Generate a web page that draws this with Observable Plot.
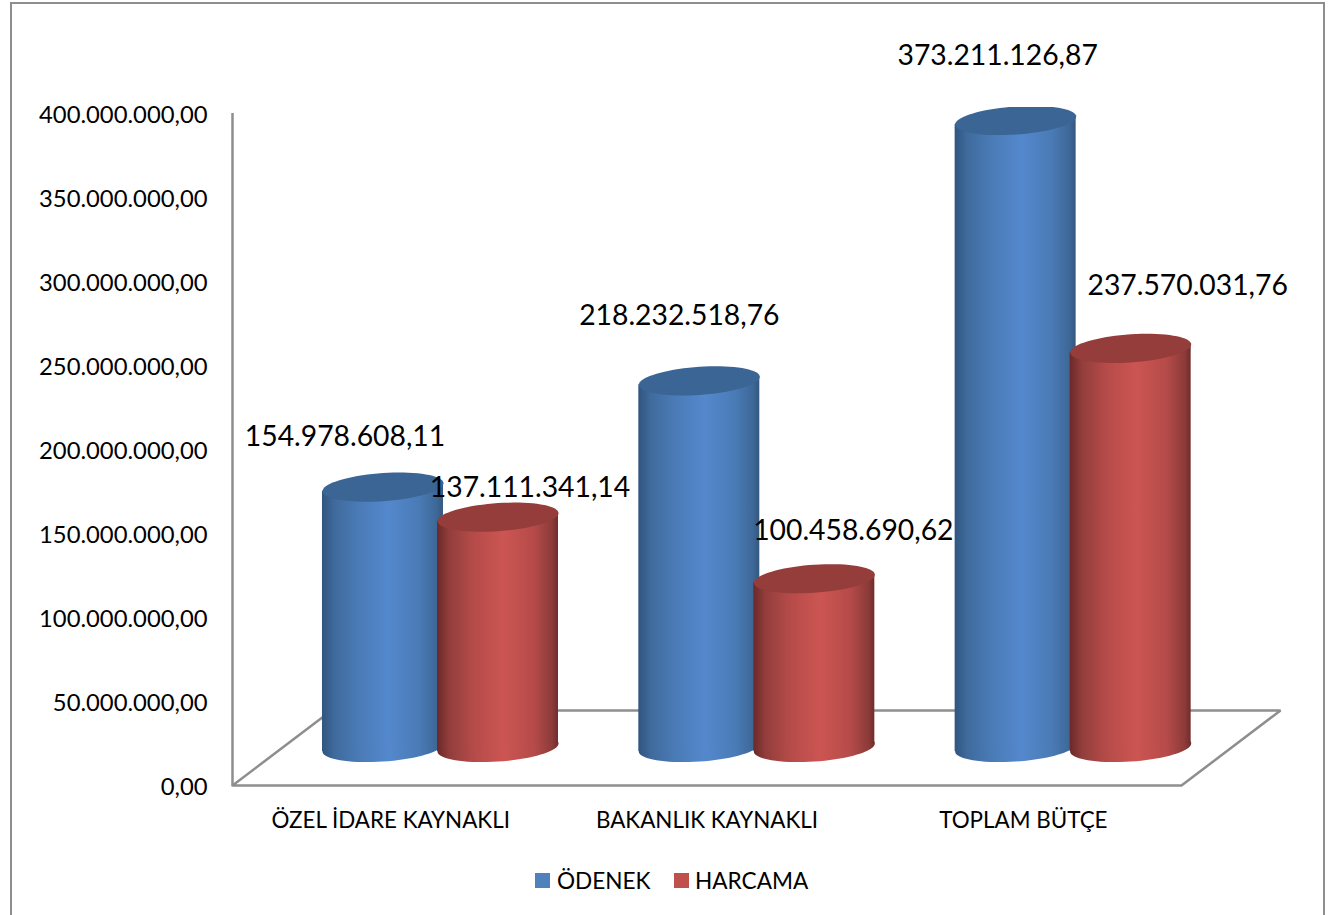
<!DOCTYPE html>
<html lang="tr">
<head>
<meta charset="utf-8">
<script src="https://cdn.jsdelivr.net/npm/d3@7"></script>
<script src="https://cdn.jsdelivr.net/npm/@observablehq/plot@0.6"></script>
<style>
  html, body { margin: 0; padding: 0; background: #fff; }
  body { width: 1333px; height: 915px; overflow: hidden; position: relative; font-family: Lato, sans-serif; color: #000; }
  #frame { position: absolute; left: 10px; top: 2px; width: 1311px; height: 913px; border: 2px solid #8e8e8e; border-bottom: none; box-sizing: content-box; pointer-events: none; }
  #chart svg { display: block; }
  #legend { position: absolute; left: 0; top: 850px; width: 1333px; height: 65px; font-size: 22.6px; }
  #legend i { position: absolute; top: 23px; width: 15px; height: 15px; }
  #legend span { position: absolute; top: 15.5px; line-height: 30px; }
</style>
</head>
<body>
<div id="chart"></div>
<div id="legend"></div>
<div id="frame"></div>
<script>
// ---- data
const categories = ["ÖZEL İDARE KAYNAKLI", "BAKANLIK KAYNAKLI", "TOPLAM BÜTÇE"];
const odenek  = [154978608.11, 218232518.76, 373211126.87];
const harcama = [137111341.14, 100458690.62, 237570031.76];
const seriesNames = ["ÖDENEK", "HARCAMA"];
const yTicks = [0, 50e6, 100e6, 150e6, 200e6, 250e6, 300e6, 350e6, 400e6];

// ---- layout (px)
const W = 1333, H = 850;
const xL = 232, xR = 1181, yB = 785, yT = 113;
const unit = (xR - xL) / 3, pxPerVal = (yB - yT) / 400e6;
const radius = 60.5, lift = -38, tilt = 4;
const offsets = [0.4757, 0.8393];
const halfW = radius / unit, tiltVal = tilt / pxPerVal;
const labelDx = [[-38, 32], [-20, 39], [-18, 57]];
const labelDy = [[-50, -29], [-65, -48], [-65, -62]];
const grey = "#8e8e8e";
const fmt = d3.formatLocale({decimal: ",", thousands: ".", grouping: [3], currency: ["", ""]}).format(",.2f");

// sheared ellipse symbol for the cylinder ends
const ellipse = {
  draw(ctx, size) {
    const a = Math.sqrt(size / Math.PI), b = a * 0.232, k = tilt / a;
    for (let i = 0; i < 72; ++i) {
      const t = i / 72 * 2 * Math.PI, px = a * Math.cos(t), py = b * Math.sin(t) - k * px;
      i ? ctx.lineTo(px, py) : ctx.moveTo(px, py);
    }
    ctx.closePath();
  }
};

function cylinders(values, s, bodyFill, capFill) {
  const pts = values.map((v, i) => ({x: i + offsets[s], v}));
  const body = pts.flatMap((p, i) => [
    {key: i, x: p.x - halfW, y1: -tiltVal, y2: p.v - tiltVal},
    {key: i, x: p.x + halfW, y1: tiltVal, y2: p.v + tiltVal}
  ]);
  return [
    Plot.dot(pts, {x: "x", y: () => 0, r: radius, symbol: ellipse, fill: bodyFill, stroke: "none", dy: lift}),
    Plot.area(body, {x1: "x", y1: "y1", y2: "y2", z: "key", fill: bodyFill, dy: lift, clip: "frame"}),
    Plot.dot(pts, {x: "x", y: "v", r: radius, symbol: ellipse, fill: capFill, stroke: "none", dy: lift, clip: "frame"})
  ];
}

function dataLabels(values, s) {
  return values.map((v, i) => Plot.text([v], {
    x: () => i + offsets[s], y: d => d, text: d => fmt(d),
    dx: labelDx[i][s], dy: lift + labelDy[i][s], fontSize: 28.3, fill: "#000", textAnchor: "middle"
  }));
}

const floorX = [0, 99 / unit, 3 + 99 / unit, 3, 0];
const floorY = [0, 75 / pxPerVal, 75 / pxPerVal, 0, 0];

const plot = Plot.plot({
  width: W, height: H,
  marginLeft: xL, marginRight: 40, marginTop: 107, marginBottom: H - yB,
  style: {fontFamily: "Lato, sans-serif", background: "transparent", color: "#000", overflow: "visible"},
  x: {domain: [0, 3], range: [xL, xR]},
  y: {domain: [0, 400e6], range: [yB, yT]},
  marks: [
    Plot.line(floorX.map((x, i) => ({x, y: floorY[i]})), {x: "x", y: "y", stroke: grey, strokeWidth: 2.5, strokeLinejoin: "miter"}),
    Plot.ruleX([0], {y1: 0, y2: 400e6, stroke: grey, strokeWidth: 2.5}),
    Plot.axisY({ticks: yTicks, tickFormat: fmt, tickSize: 0, tickPadding: 25, label: null, fontSize: 23.8, fill: "#000", dy: 1.5}),
    Plot.axisX({ticks: [0.5, 1.5, 2.5], tickFormat: d => categories[Math.floor(d)], tickSize: 0, tickPadding: 27, label: null, fontSize: 22.4, fill: "#000"}),
    ...cylinders(odenek, 0, "url(#gradBlue)", "#3a6594"),
    ...cylinders(harcama, 1, "url(#gradRed)", "#953d3a"),
    ...dataLabels(odenek, 0),
    ...dataLabels(harcama, 1)
  ]
});

const defs = d3.select(plot).insert("defs", ":first-child");
function grad(id, stops) {
  const g = defs.append("linearGradient").attr("id", id).attr("x1", 0).attr("x2", 1).attr("y1", 0).attr("y2", 0);
  stops.forEach(([o, c]) => g.append("stop").attr("offset", o).attr("stop-color", c));
}
grad("gradBlue", [[0, "#30557f"], [0.1, "#3f6a9c"], [0.3, "#4a7bb6"], [0.55, "#5488cd"], [0.8, "#4a7bb6"], [0.95, "#3d6797"], [1, "#34587f"]]);
grad("gradRed",  [[0, "#6a2928"], [0.1, "#923e3c"], [0.3, "#b54b49"], [0.55, "#cc5552"], [0.8, "#b54b49"], [0.95, "#8c3b39"], [1, "#702c2b"]]);

document.getElementById("chart").appendChild(plot);

// legend below the SVG
const legend = document.getElementById("legend");
const swatchColours = ["#4f81bd", "#c0504d"], swatchX = [535, 674], textX = [557, 695];
seriesNames.forEach((n, i) => {
  const sw = document.createElement("i");
  sw.style.left = swatchX[i] + "px"; sw.style.background = swatchColours[i];
  const t = document.createElement("span");
  t.style.left = textX[i] + "px"; t.textContent = n;
  legend.append(sw, t);
});
</script>
</body>
</html>
